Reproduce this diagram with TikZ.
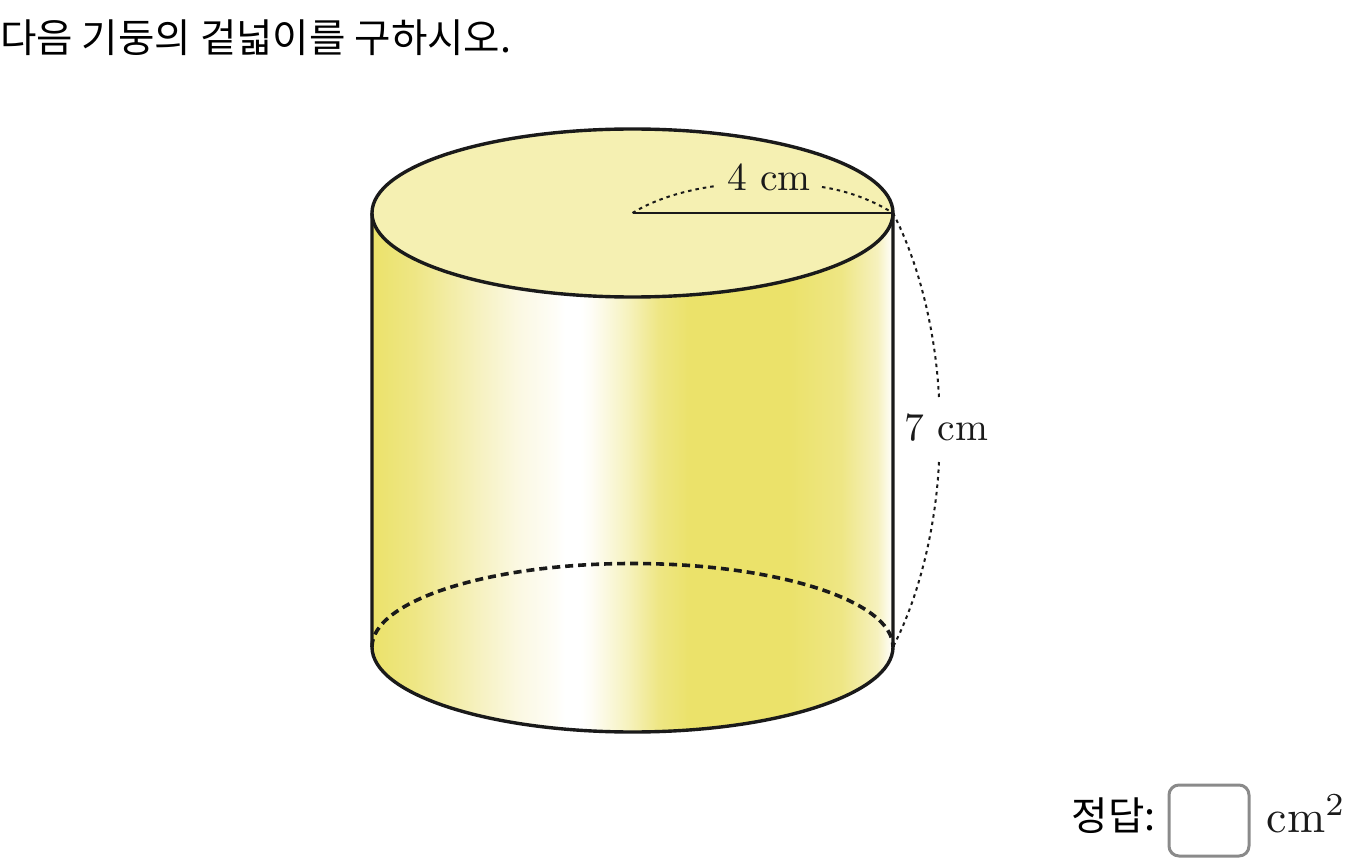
\documentclass[tikz,border=0pt]{standalone}
\usepackage{fontspec}
\newfontfamily\korfont{Noto Sans CJK KR}
\usetikzlibrary{positioning}

\definecolor{wallA}{HTML}{EBE26A}
\definecolor{wallB}{HTML}{EEE684}
\definecolor{wallC}{HTML}{F6F1BE}
\definecolor{wallD}{HTML}{FBF8E2}
\definecolor{wallE}{HTML}{FEFDF6}
\definecolor{wallF}{HTML}{F6F2BF}
\definecolor{lidcolor}{HTML}{F5F0B2}
\definecolor{inkcolor}{HTML}{1A1A1A}
\definecolor{boxcolor}{HTML}{8A8A8A}

% Side shading, the wall takes up the middle 50bp of the 100bp
\pgfdeclarehorizontalshading{wallshade}{100bp}{
    color(0bp)=(wallA);
    color(25bp)=(wallA);
    color(29bp)=(wallB);
    color(35bp)=(wallC);
    color(39bp)=(wallD);
    color(42.5bp)=(wallE);
    color(43.5bp)=(white);
    color(45bp)=(white);
    color(46bp)=(wallE);
    color(49.5bp)=(wallF);
    color(52.5bp)=(wallB);
    color(55.5bp)=(wallA);
    color(65bp)=(wallA);
    color(70bp)=(wallB);
    color(73.5bp)=(wallC);
    color(75bp)=(white);
    color(100bp)=(white)
}

\tikzset{
    outline/.style={draw=inkcolor, line width=3.4pt},
    hidden/.style={draw=inkcolor, line width=3.6pt, dash pattern=on 8pt off 5pt},
    measure/.style={draw=inkcolor, line width=2pt, dash pattern=on 3.5pt off 4pt},
    size/.style={inner sep=0pt, text=inkcolor, scale=3.95},
    korean/.style={inner sep=0pt, text=black, font=\korfont\fontsize{39.6}{40}\selectfont}
}

\begin{document}
\begin{tikzpicture}[x=1pt, y=-1pt]
        \useasboundingbox (0,0) rectangle (1350,861);

        % Coordinates
        \coordinate (topc) at (632.5,213);
        \coordinate (topl) at (372,213);
        \coordinate (topr) at (893,213);
        \coordinate (botl) at (372,647);
        \coordinate (botr) at (893,647);

        % Wall and lid
        \path[shading=wallshade] (topl) -- (botl) arc[start angle=180, end angle=0, x radius=260.5, y radius=85] -- (topr) -- cycle;
        \draw[hidden] (botl) arc[start angle=180, end angle=360, x radius=260.5, y radius=83.5];
        \draw[outline] (topl) -- (botl) arc[start angle=180, end angle=0, x radius=260.5, y radius=85] -- (topr);
        \draw[outline, fill=lidcolor] (topc) ellipse[x radius=260.5, y radius=84];

        % Radius
        \draw[draw=inkcolor, line width=2.4pt] (topc) -- (topr);

        % Labels
        \node[size] (radius) at (769,177) {4 cm};
        \node[size] (height) at (946.5,428) {7 cm};
        \node[korean, anchor=west] (title) at (0,38) {다음 기둥의 겉넓이를 구하시오.};

        % Dimension arcs
        \coordinate (radiusa) at (716,186);
        \coordinate (radiusb) at (822,187);
        \coordinate (heighta) at (939,398);
        \coordinate (heightb) at (939,462);
        \draw[measure] (topc) .. controls (655,199) and (686,190) .. (radiusa);
        \draw[measure] (radiusb) .. controls (848,191) and (872,200) .. (topr);
        \draw[measure] (topr) .. controls (920,265) and (936,335) .. (heighta);
        \draw[measure] (heightb) .. controls (936,525) and (920,595) .. (botr);

        % Answer
        \node[draw=boxcolor, line width=3pt, rounded corners=10pt, minimum width=80pt, minimum height=71pt, inner sep=0pt] (answer) at (1209,820.5) {};
        \node[korean, anchor=east] (answerlabel) at (1156,816) {정답:};
        \node[size, scale=1.16, anchor=base west] (unit) at (1266,832) {cm$^2$};
    \end{tikzpicture}
\end{document}
